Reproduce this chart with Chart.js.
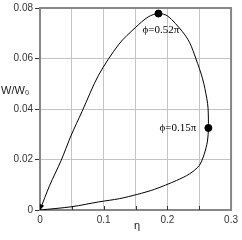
<!DOCTYPE html>
<html>
<head>
<meta charset="utf-8">
<script src="https://cdn.jsdelivr.net/npm/chart.js@4"></script>
<style>
  body { margin: 0; background: #fff; }
  #box { width: 242px; height: 240px; }
</style>
</head>
<body>
<div id="box"><canvas id="grafico" width="242" height="240"></canvas></div>
<script>
// curva W/W0 em função de eta (percorre o laço e volta para a origem)
const eta = [0, 0.05, 0.092, 0.125, 0.153, 0.18, 0.2144, 0.2348, 0.25, 0.2578, 0.263, 0.2644, 0.2639, 0.2619, 0.2553, 0.245, 0.2348, 0.2237, 0.2006, 0.186, 0.17, 0.1496, 0.124, 0.092, 0.066, 0.0485, 0.033, 0.0153, 0];
const wRel = [0, 0.0013, 0.0032, 0.0045, 0.0062, 0.0082, 0.0117, 0.0143, 0.0176, 0.0221, 0.0273, 0.0325, 0.0403, 0.0442, 0.052, 0.0598, 0.0664, 0.0706, 0.0768, 0.0778, 0.0765, 0.0722, 0.0657, 0.0534, 0.039, 0.0293, 0.0195, 0.0098, 0];

// pontos marcados
const marcaEta = [0.186, 0.2644];
const marcaW = [0.0778, 0.0325];
const marcaTexto = ['ϕ=0.52π', 'ϕ=0.15π'];

const xTicks = [0, 0.1, 0.2, 0.3];

let curva = [];
for (let i = 0; i < eta.length; i++) {
    curva.push({ x: eta[i], y: wRel[i] });
}
let marcas = [];
for (let i = 0; i < marcaEta.length; i++) {
    marcas.push({ x: marcaEta[i], y: marcaW[i] });
}

// desenha moldura, seta, rótulos e títulos
const extras = {
    id: 'extras',
    beforeDatasetsDraw(chart) {
        const ctx = chart.ctx;
        const a = chart.chartArea;
        ctx.save();
        ctx.strokeStyle = '#878787';
        ctx.lineWidth = 2;
        ctx.strokeRect(a.left, a.top, a.right - a.left, a.bottom - a.top);
        // marcas internas no eixo x
        const xs = chart.scales.x;
        ctx.strokeStyle = '#333';
        ctx.lineWidth = 1;
        for (let v = 0.05; v < 0.3; v += 0.05) {
            const px = Math.round(xs.getPixelForValue(v)) + 0.5;
            ctx.beginPath();
            ctx.moveTo(px, a.bottom);
            ctx.lineTo(px, a.bottom - 4);
            ctx.stroke();
        }
        ctx.restore();
    },
    afterDraw(chart) {
        const ctx = chart.ctx;
        const xs = chart.scales.x;
        const ys = chart.scales.y;
        ctx.save();
        // seta na origem
        const n = eta.length;
        const x1 = xs.getPixelForValue(eta[n - 2]), y1 = ys.getPixelForValue(wRel[n - 2]);
        const x0 = xs.getPixelForValue(eta[n - 1]), y0 = ys.getPixelForValue(wRel[n - 1]);
        const ang = Math.atan2(y0 - y1, x0 - x1);
        ctx.fillStyle = '#000';
        ctx.beginPath();
        ctx.moveTo(x0, y0);
        ctx.lineTo(x0 - 6 * Math.cos(ang - 0.4), y0 - 6 * Math.sin(ang - 0.4));
        ctx.lineTo(x0 - 6 * Math.cos(ang + 0.4), y0 - 6 * Math.sin(ang + 0.4));
        ctx.closePath();
        ctx.fill();

        // rótulos dos pontos
        ctx.font = '11px "Liberation Serif"';
        ctx.fillStyle = '#000';
        ctx.textBaseline = 'middle';
        const p0x = xs.getPixelForValue(marcaEta[0]), p0y = ys.getPixelForValue(marcaW[0]);
        ctx.textAlign = 'left';
        ctx.fillText(marcaTexto[0], p0x - 16, p0y + 17);
        const p1x = xs.getPixelForValue(marcaEta[1]), p1y = ys.getPixelForValue(marcaW[1]);
        ctx.textAlign = 'right';
        ctx.fillText(marcaTexto[1], p1x - 12, p1y);

        // títulos dos eixos
        ctx.font = '11px "Liberation Sans"';
        ctx.fillStyle = '#222';
        ctx.textAlign = 'left';
        ctx.fillText('W/W₀', 1, 91);
        ctx.textAlign = 'center';
        ctx.fillText('η', 137, 226);
        ctx.restore();
    }
};

const config = {
    type: 'scatter',
    data: {
        datasets: [{
            data: curva,
            showLine: true,
            borderColor: '#000',
            borderWidth: 1,
            pointRadius: 0,
            tension: 0.3
        }, {
            data: marcas,
            showLine: false,
            pointRadius: 3.5,
            pointBackgroundColor: '#000',
            pointBorderColor: '#000'
        }]
    },
    options: {
        responsive: false,
        animation: false,
        layout: { padding: { top: 5, right: 5, left: 0, bottom: 0 } },
        plugins: { legend: { display: false }, tooltip: { enabled: false } },
        scales: {
            x: {
                type: 'linear',
                min: 0,
                max: 0.3,
                afterFit: function (s) { s.height = 30; },
                grid: { color: '#c4c4c4', drawTicks: false },
                border: { display: false },
                ticks: {
                    stepSize: 0.05,
                    padding: 4,
                    color: '#333',
                    font: { family: 'Liberation Sans', size: 10 },
                    callback: function (v) {
                        const r = Math.round(v * 100) / 100;
                        return xTicks.indexOf(r) >= 0 ? String(r) : '';
                    }
                }
            },
            y: {
                type: 'linear',
                min: 0,
                max: 0.08,
                afterFit: function (s) { s.width = 40; },
                grid: { color: '#c4c4c4', tickColor: '#333', tickLength: 5 },
                border: { display: false },
                ticks: {
                    stepSize: 0.02,
                    padding: 2,
                    color: '#333',
                    font: { family: 'Liberation Sans', size: 10 },
                    callback: function (v) {
                        const r = Math.round(v * 100) / 100;
                        return r === 0 ? '0' : r.toFixed(2);
                    }
                }
            }
        }
    },
    plugins: [extras]
};

new Chart(document.getElementById('grafico'), config);
</script>
</body>
</html>
